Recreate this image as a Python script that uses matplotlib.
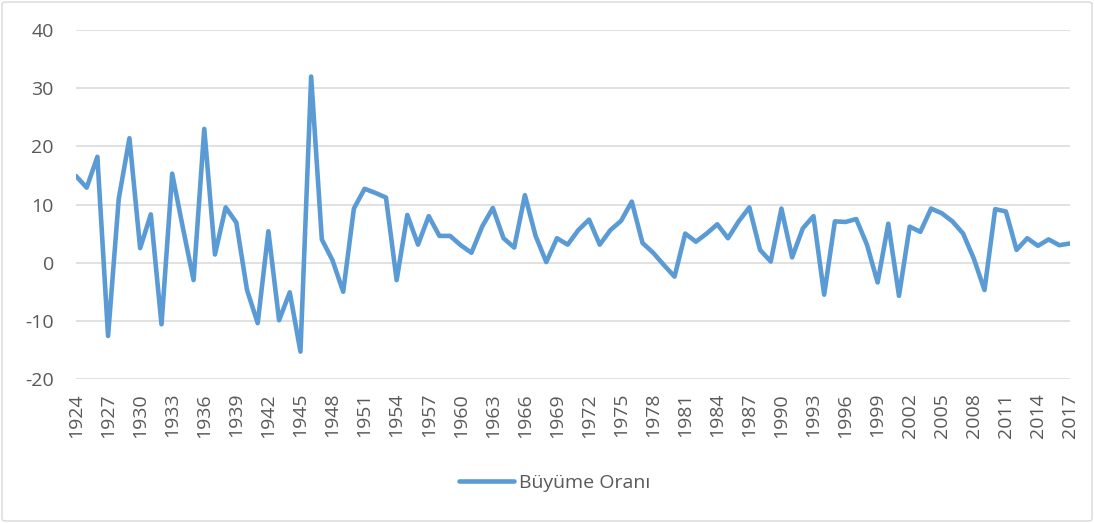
import matplotlib
matplotlib.use("Agg")
import matplotlib.pyplot as plt
from matplotlib.patches import FancyBboxPatch

years = list(range(1924, 2018))
growth = [
    14.9, 12.9, 18.2, -12.6, 11.0, 21.4, 2.5, 8.3, -10.6, 15.3,
    6.0, -3.0, 23.0, 1.4, 9.5, 6.9, -4.7, -10.4, 5.4, -9.9,
    -5.1, -15.3, 32.0, 4.0, 0.4, -5.0, 9.3, 12.7, 12.0, 11.2,
    -3.0, 8.2, 3.1, 8.0, 4.6, 4.6, 3.0, 1.7, 6.2, 9.4,
    4.2, 2.6, 11.6, 4.6, 0.1, 4.2, 3.1, 5.6, 7.4, 3.1,
    5.6, 7.2, 10.5, 3.4, 1.7, -0.4, -2.4, 5.0, 3.6, 5.0,
    6.6, 4.2, 7.1, 9.5, 2.2, 0.2, 9.3, 0.9, 5.9, 8.0,
    -5.5, 7.1, 7.0, 7.5, 3.1, -3.4, 6.7, -5.7, 6.2, 5.3,
    9.3, 8.5, 7.1, 5.0, 0.7, -4.7, 9.2, 8.8, 2.2, 4.2,
    2.9, 4.0, 3.0, 3.3,
]
series_name = "Büyüme Oranı"
yticks = [-20, -10, 0, 10, 20, 30, 40]
xticks = list(range(1924, 2018, 3))

plt.rcParams['font.family'] = ['Open Sans', 'DejaVu Sans']
plt.rcParams['axes.unicode_minus'] = False

W, H = 1094, 523
FS = 14.0
fig = plt.figure(figsize=(W / 100, H / 100), dpi=100)
ax = fig.add_axes([76 / W, 1 - 379 / H, (1070 - 76) / W, (379 - 30) / H])

line, = ax.plot(years, growth, color="#5B9BD5", lw=3.3, solid_joinstyle="round",
                solid_capstyle="round", label=series_name)

ax.set_xlim(1924, 2017)
ax.set_ylim(-20, 40)
ax.set_yticks(yticks)
ax.set_yticklabels([str(v) for v in yticks])
ax.set_xticks(xticks)
ax.set_xticklabels([str(x) for x in xticks], rotation=90)
ax.tick_params(axis="both", length=0, labelsize=FS, colors="#595959")
ax.tick_params(axis="y", pad=16)
ax.tick_params(axis="x", pad=10)
ax.grid(axis="y", color="#D9D9D9", lw=1.1)
ax.set_axisbelow(True)
for s in ax.spines.values():
    s.set_visible(False)

fig.legend(handles=[line], loc="center", bbox_to_anchor=(555 / W, 1 - 483 / H),
           frameon=False, fontsize=FS, labelcolor="#595959",
           handlelength=2.8, handletextpad=0.3)

border = FancyBboxPatch((2 / W, 2 / H), (W - 4) / W, (H - 4) / H,
                        boxstyle="round,pad=0,rounding_size=0.004",
                        transform=fig.transFigure, fill=False,
                        edgecolor="#D9D9D9", lw=1.0)
fig.patches.append(border)

fig.savefig("out.png", dpi=100)
